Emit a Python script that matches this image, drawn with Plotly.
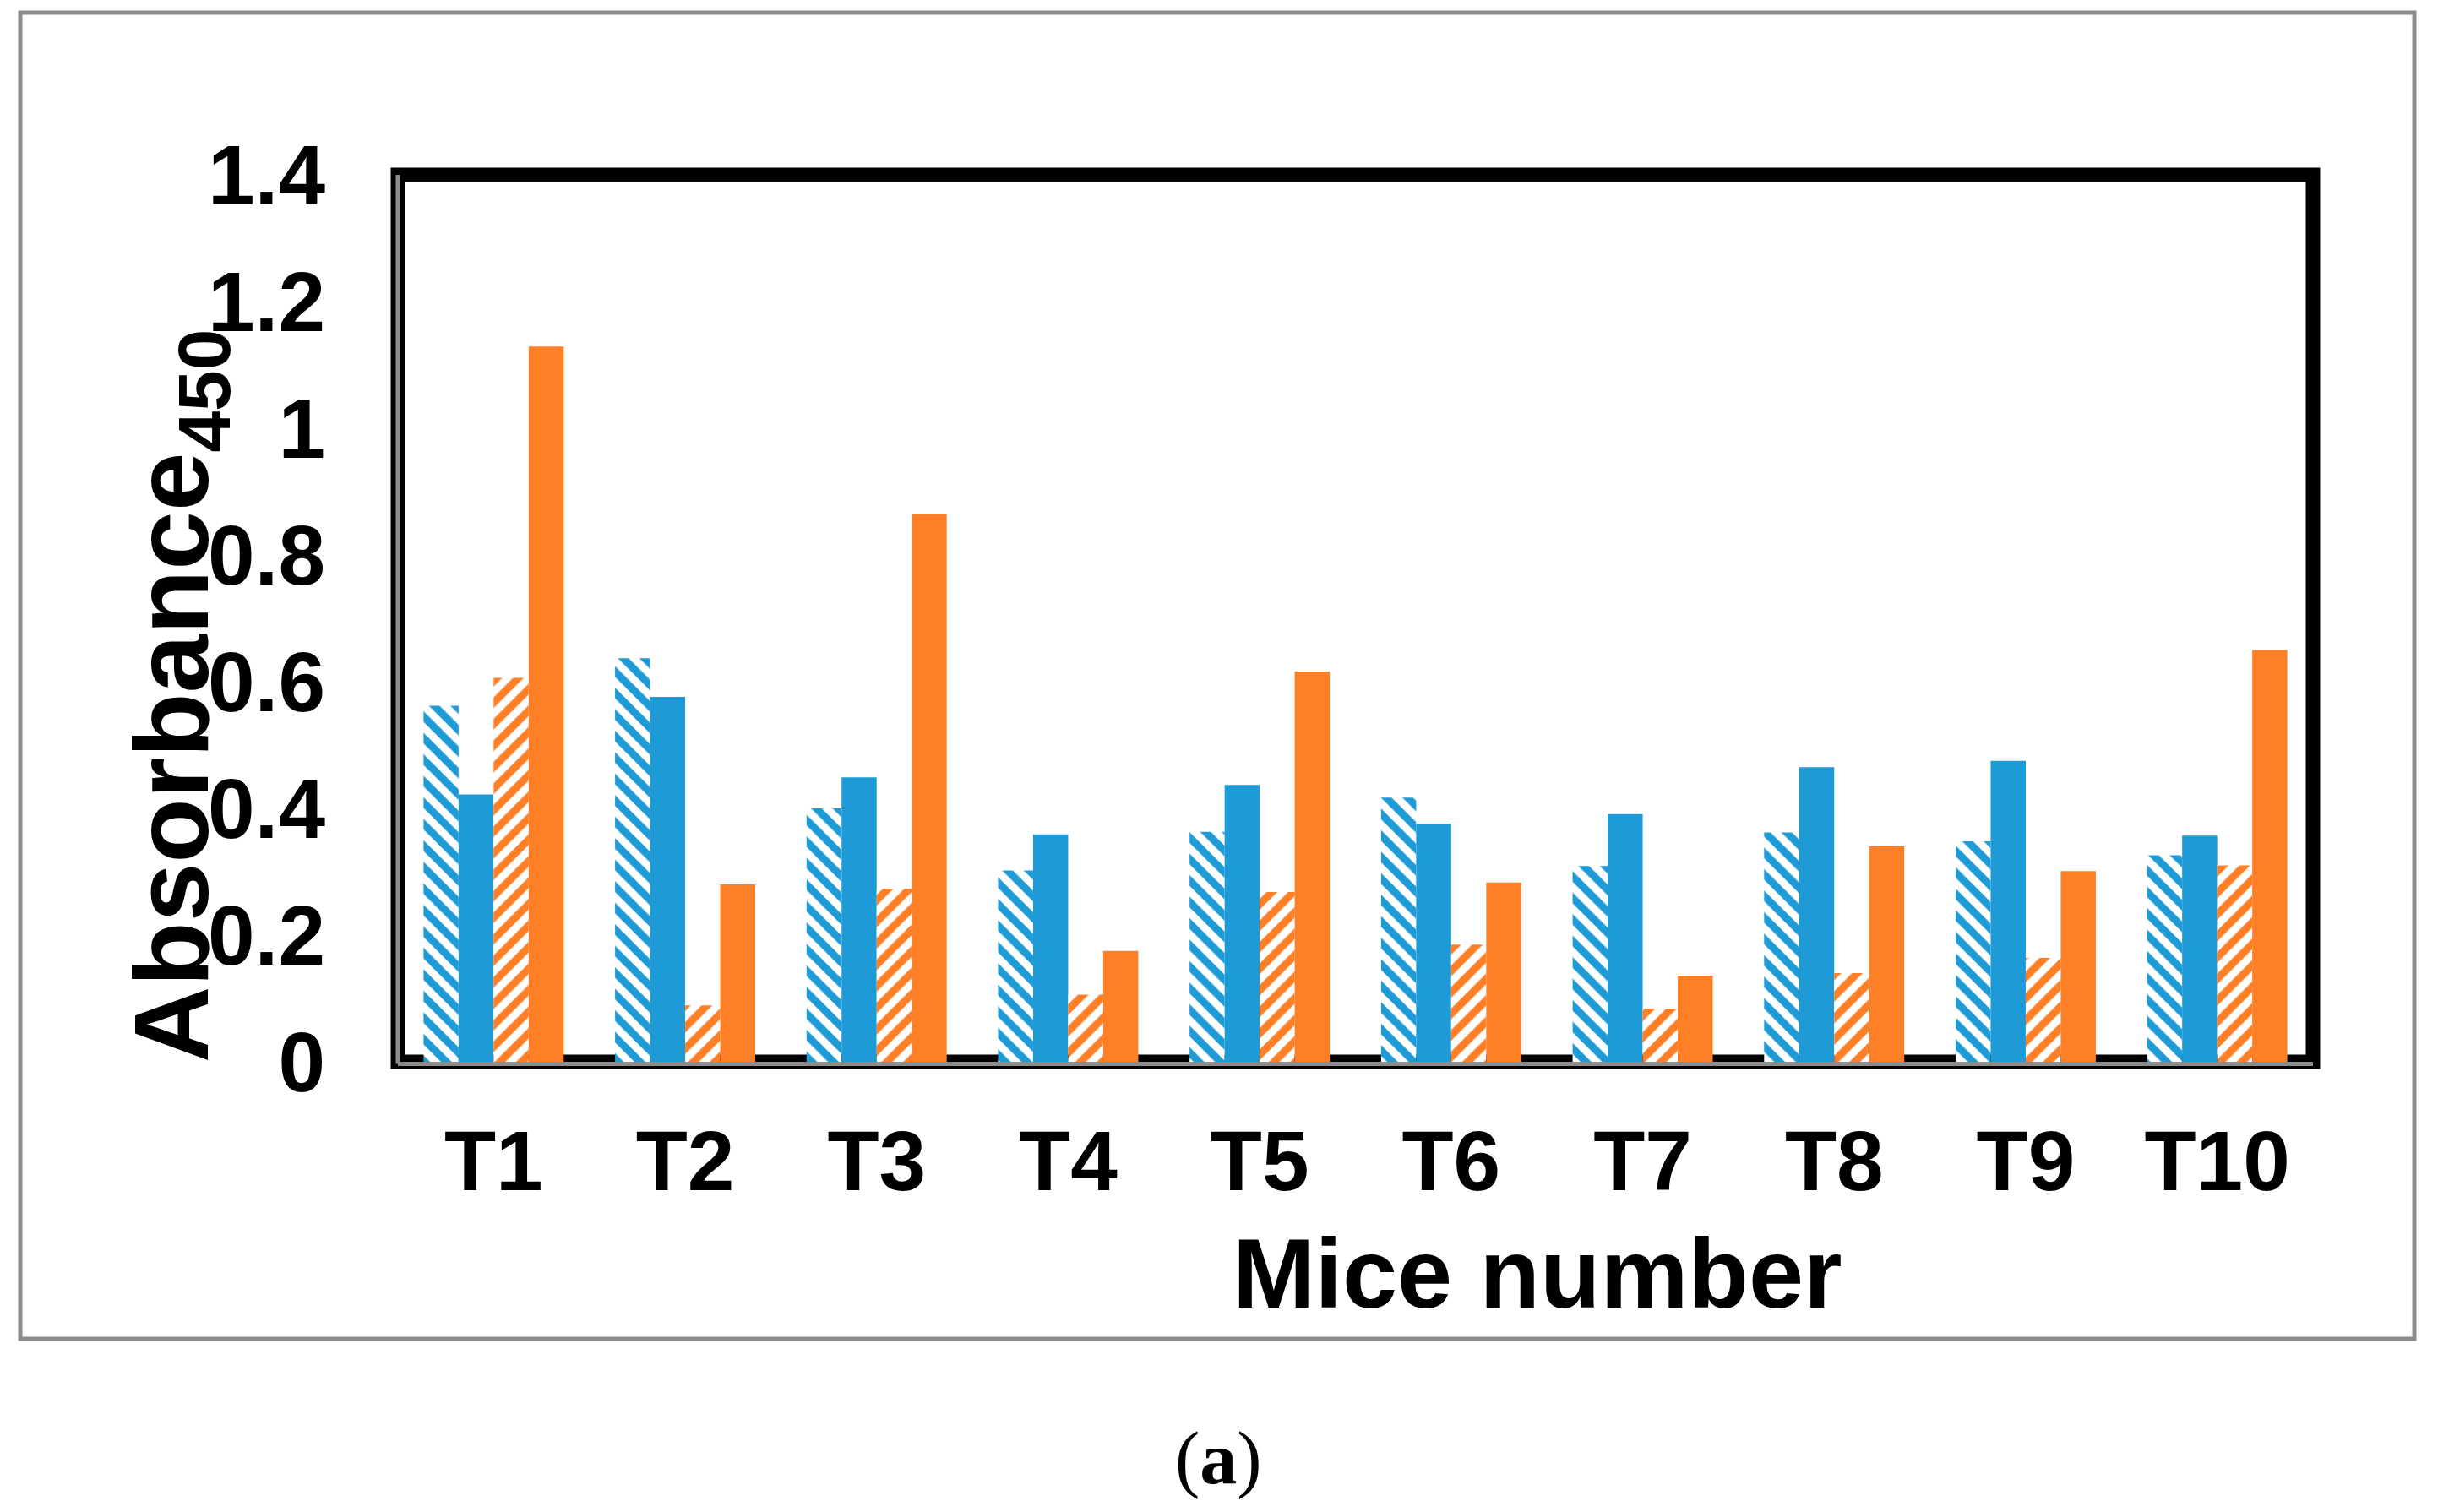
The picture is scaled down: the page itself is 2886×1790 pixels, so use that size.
import plotly.graph_objects as go

categories = ["T1", "T2", "T3", "T4", "T5", "T6", "T7", "T8", "T9", "T10"]
hatched_blue = [0.562, 0.637, 0.400, 0.302, 0.363, 0.417, 0.309, 0.362, 0.348, 0.326]
solid_blue = [0.422, 0.576, 0.449, 0.359, 0.437, 0.376, 0.391, 0.465, 0.475, 0.357]
hatched_orange = [0.606, 0.089, 0.273, 0.106, 0.268, 0.185, 0.084, 0.140, 0.164, 0.310]
solid_orange = [1.129, 0.280, 0.865, 0.175, 0.616, 0.283, 0.136, 0.340, 0.301, 0.650]
y_ticks = [0, 0.2, 0.4, 0.6, 0.8, 1.0, 1.2, 1.4]
y_ticklabels = ["0", "0.2", "0.4", "0.6", "0.8", "1", "1.2", "1.4"]

BLUE = "#1E9BD7"
ORANGE = "#FF7F27"
GRAY = "#8C8C8C"
W, H = 2886, 1790
L, R, T, B = 471, 2738, 207, 1257

def px(x):
    return (x - L) / (R - L)

def py(y):
    return (B - y) / (B - T)

fig = go.Figure()
def hatched(vals, color, shape, name):
    return go.Bar(x=categories, y=vals, name=name,
                  marker=dict(color=color, line=dict(width=0),
                              pattern=dict(shape=shape, fgcolor=color, bgcolor="white",
                                           size=18, solidity=0.5, fillmode="replace")))
fig.add_trace(hatched(hatched_blue, BLUE, "\\", "Blue hatched"))
fig.add_trace(go.Bar(x=categories, y=solid_blue, name="Blue",
                     marker=dict(color=BLUE, line=dict(width=0))))
fig.add_trace(hatched(hatched_orange, ORANGE, "/", "Orange hatched"))
fig.add_trace(go.Bar(x=categories, y=solid_orange, name="Orange",
                     marker=dict(color=ORANGE, line=dict(width=0))))

tick_font = dict(family="Liberation Sans, Arial", size=100, color="black", weight="bold")

fig.update_layout(
    width=W, height=H,
    margin=dict(l=L, r=W - R, t=T, b=H - B, pad=0),
    paper_bgcolor="white", plot_bgcolor="white",
    barmode="group", bargap=0.268, bargroupgap=0,
    showlegend=False,
    xaxis=dict(showline=False, showgrid=False, zeroline=False, ticks="",
               tickfont=tick_font, ticklabelstandoff=51),
    yaxis=dict(range=[0, 1.4], tickvals=y_ticks, ticktext=y_ticklabels,
               showline=False, showgrid=False, zeroline=False, ticks="",
               tickfont=tick_font, ticklabelstandoff=85),
)

shapes = [
    dict(type="rect", xref="paper", yref="paper", x0=px(24), x1=px(2858), y0=py(1585), y1=py(15),
         line=dict(color=GRAY, width=5), layer="below"),
    dict(type="rect", xref="paper", yref="paper", x0=0, x1=1, y0=0, y1=1,
         line=dict(color="black", width=17), layer="below"),
    dict(type="line", xref="paper", yref="paper", x0=0, x1=0, y0=py(1259.5), y1=1,
         line=dict(color=GRAY, width=5), layer="below"),
    dict(type="line", xref="paper", yref="paper", x0=0, x1=1, y0=py(1259.5), y1=py(1259.5),
         line=dict(color=GRAY, width=5), layer="above"),
]
fig.update_layout(shapes=shapes)

fig.add_annotation(xref="paper", yref="paper", x=px(212), y=py(824),
                   text="Absorbance<sub>450</sub>", textangle=-90, showarrow=False,
                   xanchor="center", yanchor="middle",
                   font=dict(family="Liberation Sans, Arial", size=125, color="black", weight="bold"))
fig.add_annotation(xref="paper", yref="paper", x=px(1820), y=py(1507),
                   text="Mice number", showarrow=False, xanchor="center", yanchor="middle",
                   font=dict(family="Liberation Sans, Arial", size=117, color="black", weight="bold"))
fig.add_annotation(xref="paper", yref="paper", x=px(1442), y=py(1726),
                   text="(<b>a</b>)", showarrow=False, xanchor="center", yanchor="middle",
                   font=dict(family="Liberation Serif, Times New Roman", size=88, color="black"))

fig.write_html("out.html", config={"displayModeBar": False},
               post_script="document.body.style.margin='0px';")
